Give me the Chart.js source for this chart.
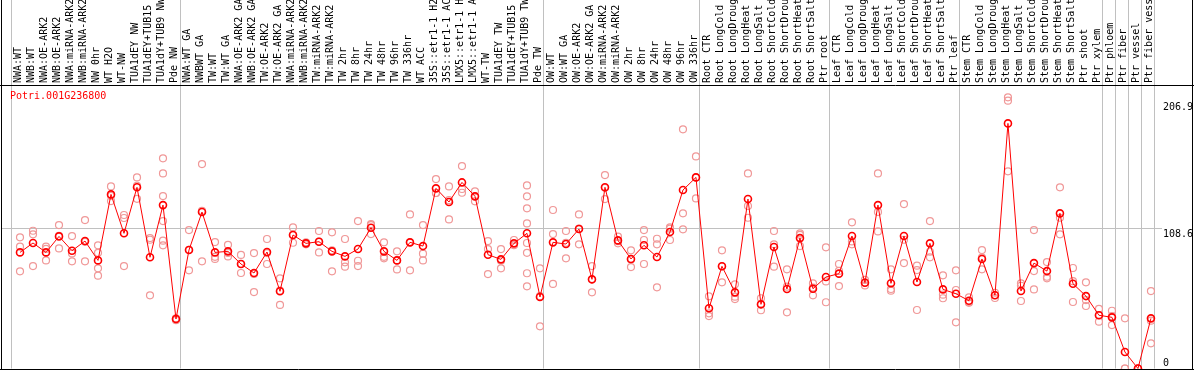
<!DOCTYPE html>
<html>
<head>
<meta charset="utf-8">
<script src="https://cdn.jsdelivr.net/npm/chart.js@4/dist/chart.umd.min.js"></script>
<style>
  html, body { margin: 0; padding: 0; background: #fff; }
</style>
</head>
<body>
<canvas id="chart" width="1194" height="370"></canvas>
<script>
const geneName = 'Potri.001G236800'

const labels = [
  'NWA:WT', 'NWB:WT', 'NWA:OE-ARK2', 'NWB:OE-ARK2', 'NWA:miRNA-ARK2', 'NWB:miRNA-ARK2',
  'NW 0hr', 'WT H2O', 'WT-NW', 'TUA1dEY NW', 'TUA1dEY+TUB15', 'TUA1dY+TUB9 NW', 'Pde NW',
  'NWA:WT GA', 'NWBWT GA', 'TW:WT', 'TW:WT GA', 'NWA:OE-ARK2 GA', 'NWB:OE-ARK2 GA',
  'TW:OE-ARK2', 'TW:OE-ARK2 GA', 'NWA:miRNA-ARK2', 'NWB:miRNA-ARK2', 'TW:miRNA-ARK2',
  'TW:miRNA-ARK2', 'TW 2hr', 'TW 8hr', 'TW 24hr', 'TW 48hr', 'TW 96hr', 'TW 336hr',
  'WT ACC', '35S::etr1-1 H2O', '35S::etr1-1 ACC', 'LMX5::etr1-1 H2O', 'LMX5::etr1-1 ACC',
  'WT-TW', 'TUA1dEY TW', 'TUA1dEY+TUB15', 'TUA1dY+TUB9 TW', 'Pde TW',
  'OW:WT', 'OW:WT GA', 'OW:OE-ARK2', 'OW:OE-ARK2 GA', 'OW:miRNA-ARK2', 'OW:miRNA-ARK2',
  'OW 2hr', 'OW 8hr', 'OW 24hr', 'OW 48hr', 'OW 96hr', 'OW 336hr',
  'Root CTR', 'Root LongCold', 'Root LongDrought', 'Root LongHeat', 'Root LongSalt',
  'Root ShortCold', 'Root ShortDrought', 'Root ShortHeat', 'Root ShortSalt', 'Ptr root',
  'Leaf CTR', 'Leaf LongCold', 'Leaf LongDrought', 'Leaf LongHeat', 'Leaf LongSalt',
  'Leaf ShortCold', 'Leaf ShortDrought', 'Leaf ShortHeat', 'Leaf ShortSalt', 'Ptr leaf',
  'Stem CTR', 'Stem LongCold', 'Stem LongDrought', 'Stem LongHeat', 'Stem LongSalt',
  'Stem ShortCold', 'Stem ShortDrought', 'Stem ShortHeat', 'Stem ShortSalt', 'Ptr shoot',
  'Ptr xylem', 'Ptr phloem', 'Ptr fiber', 'Ptr vessel', 'Ptr fiber vessel'
]

// mean expression per sample (the connected red line)
const means = [
  90.1, 97.4, 90.1, 102.5, 91.4, 98.9, 83.9, 135.1, 104.9, 140.6, 86.3, 126.8, 38.4,
  91.9, 121.4, 90.1, 90.9, 81.1, 74.1, 90.4, 59.9, 103.6, 97.1, 98.4, 90.9, 87.0, 92.7,
  109.2, 90.9, 83.9, 97.9, 95.0, 139.8, 129.2, 144.4, 133.6, 88.3, 84.7, 97.1, 104.9, 55.5,
  97.9, 96.6, 108.2, 69.2, 140.6, 99.4, 85.0, 95.6, 86.5, 105.9, 138.5, 148.3,
  46.7, 79.3, 59.1, 131.5, 49.8, 94.3, 61.7, 101.2, 61.9, 71.0,
  73.6, 102.8, 66.6, 126.8, 66.1, 102.8, 67.1, 97.1, 61.4, 58.0,
  52.6, 85.0, 56.8, 190.2, 60.1, 81.8, 75.6, 120.4, 65.8, 56.2,
  41.3, 39.7, 12.8, 0, 38.9
]

// individual replicates (pale circles)
const replicates = [
  [101.8, 94.5, 75.4], [106.9, 104.1, 79.5], [94.5, 92.8, 83.9], [111.3, 93.2, 103.0],
  [102.8, 89.3, 83.2], [115.2, 83.2, 98.3], [95.6, 89.8, 77.7, 72.0], [141.3, 129.9, 134.0],
  [119.1, 116.8, 79.5], [148.3, 131.7, 141.8], [101.2, 99.9, 56.8],
  [163.1, 151.4, 133.8, 114.4, 99.2, 95.6], [37.5, 39.0, 38.7],
  [107.4, 76.2, 92.1], [158.6, 83.2, 122.4], [98.1, 86.7, 85.0], [96.0, 87.0, 89.7],
  [88.1, 74.1, 81.1], [89.6, 59.3, 73.4], [100.5, 81.1, 89.6], [70.0, 49.3, 60.4],
  [109.5, 97.6, 103.7], [97.9, 96.4, 97.0], [106.7, 90.1, 98.4], [105.7, 75.4, 91.6],
  [100.5, 82.4, 79.0], [114.4, 83.6, 79.5], [112.1, 104.3, 111.2], [97.9, 86.7, 85.5],
  [90.9, 76.9, 83.9], [119.6, 76.2, 97.9], [111.3, 89.1, 83.9], [147.0, 136.2, 136.2],
  [141.3, 115.7, 130.6], [157.1, 139.3, 136.4], [137.5, 129.7, 133.6], [98.9, 73.3, 92.7],
  [92.7, 77.7, 83.7], [99.7, 95.8, 95.8],
  [142.1, 133.6, 124.3, 112.6, 97.4, 89.8, 73.9, 63.8], [77.7, 32.7, 56.1],
  [123.0, 104.3, 65.6], [106.7, 85.5, 97.6], [119.6, 96.4, 108.6], [79.5, 59.1, 69.0],
  [150.1, 131.5, 140.2], [102.3, 97.1, 98.8], [91.7, 78.7, 84.6], [107.4, 99.7, 81.1],
  [100.7, 96.4, 63.0], [109.5, 99.7, 108.5], [185.6, 120.4, 108.0], [164.6, 132.0, 148.3],
  [56.0, 42.8, 40.7], [91.7, 66.9, 79.3], [65.3, 55.7, 53.9], [151.4, 126.1, 117.0],
  [54.5, 45.2, 49.7], [106.7, 96.4, 79.0], [77.0, 63.5, 43.6], [104.9, 95.0, 103.7],
  [66.1, 56.8, 62.8], [94.0, 67.6, 51.4],
  [81.1, 64.0, 75.7], [113.4, 96.4, 98.6], [68.7, 64.5, 66.6], [151.4, 121.5, 106.4],
  [77.0, 61.7, 60.4], [127.6, 99.9, 81.8], [79.8, 76.4, 45.4], [114.4, 90.6, 86.3],
  [72.3, 57.3, 54.5], [76.2, 60.9, 35.8],
  [55.2, 51.0, 51.6], [91.9, 77.0, 86.1], [58.8, 54.7, 56.9], [210.4, 207.8, 153.0],
  [66.1, 64.2, 52.4], [107.4, 75.6, 61.4], [82.6, 71.2, 70.0], [140.6, 117.0, 104.1],
  [78.0, 51.6, 67.8], [66.9, 53.1, 48.5],
  [46.2, 36.3, 41.4], [44.8, 33.7, 40.6], [38.9, 0, 0], [0, 0, 0], [60.1, 19.5, 37.1]
]

// index of the first sample of each group, plus the end
const groupStarts = [0, 13, 41, 53, 63, 73, 84, 85, 86, 87, 88]

const yTicks = [0, 108.6, 206.9]
const yGridValue = 108.6

const monoFont = 'DejaVu Sans Mono'

// grey lines between the sample groups, running up through the label band
const groupLines = {
  id: 'groupLines',
  beforeDatasetsDraw(chart) {
    const { ctx, chartArea, scales } = chart
    ctx.save()
    ctx.strokeStyle = '#c0c0c0'
    ctx.lineWidth = 1
    ctx.beginPath()
    groupStarts.forEach(s => {
      const x = Math.round(scales.x.getPixelForValue(s - 0.73)) + 0.5
      ctx.moveTo(x, 0)
      ctx.lineTo(x, chartArea.bottom)
    })
    ctx.stroke()
    ctx.restore()
  }
}

const geneTitle = {
  id: 'geneTitle',
  afterDatasetsDraw(chart) {
    const { ctx, chartArea } = chart
    ctx.save()
    ctx.font = '10px "' + monoFont + '"'
    ctx.fillStyle = '#ff0000'
    ctx.textBaseline = 'top'
    ctx.fillText(geneName, chartArea.left + 8, chartArea.top + 6)
    ctx.restore()
  }
}

// black box round the plot, left and right edges go to the top of the page
const frame = {
  id: 'frame',
  afterDraw(chart) {
    const { ctx, chartArea, width } = chart
    const top = Math.round(chartArea.top) + 0.5
    const bottom = Math.round(chartArea.bottom) + 0.5
    ctx.save()
    ctx.strokeStyle = '#000'
    ctx.lineWidth = 1
    ctx.beginPath()
    ctx.moveTo(0, top); ctx.lineTo(width, top)
    ctx.moveTo(0, bottom); ctx.lineTo(width, bottom)
    ctx.moveTo(1.5, 0); ctx.lineTo(1.5, bottom)
    ctx.moveTo(width - 1.5, 0); ctx.lineTo(width - 1.5, bottom)
    ctx.stroke()
    ctx.restore()
  }
}

new Chart(document.getElementById('chart'), {
  type: 'scatter',
  data: {
    datasets: [
      {
        label: 'mean',
        data: means.map((v, i) => ({ x: i, y: v })),
        showLine: true,
        borderColor: '#ff0000',
        borderWidth: 1,
        pointRadius: 3.5,
        pointBorderWidth: 1.6,
        pointBorderColor: '#ff0000',
        pointBackgroundColor: 'rgba(0,0,0,0)',
        clip: false,
        order: 0
      },
      {
        label: 'replicates',
        data: replicates.flatMap((r, i) => r.map(v => ({ x: i, y: v }))),
        pointRadius: 3.5,
        borderWidth: 1.2,
        borderColor: '#f09898',
        backgroundColor: 'rgba(0,0,0,0)',
        clip: false,
        order: 1
      }
    ]
  },
  options: {
    responsive: false,
    animation: false,
    layout: { autoPadding: false, padding: { left: 2, right: 0, top: 0, bottom: 1.5 } },
    plugins: { legend: { display: false }, tooltip: { enabled: false } },
    scales: {
      x: {
        type: 'linear',
        position: 'top',
        min: -1.385,
        max: 87.85,
        afterBuildTicks: s => { s.ticks = labels.map((_, i) => ({ value: i })) },
        afterFit: s => {
          s.height = 85
          s.paddingLeft = 0
          s.paddingRight = 0
        },
        grid: { display: false, drawTicks: false },
        border: { display: false },
        ticks: {
          autoSkip: false,
          minRotation: 90,
          maxRotation: 90,
          padding: 2,
          labelOffset: 10,
          color: '#000',
          font: { family: monoFont, size: 10 },
          callback: v => labels[v]
        }
      },
      y: {
        position: 'right',
        min: 0,
        max: 220,
        afterBuildTicks: s => { s.ticks = yTicks.map(v => ({ value: v })) },
        afterFit: s => {
          s.width = 32
          s.paddingTop = 0
          s.paddingBottom = 0
        },
        grid: {
          drawTicks: false,
          color: c => (c.tick && c.tick.value === yGridValue) ? '#c0c0c0' : 'rgba(0,0,0,0)'
        },
        border: { display: false },
        ticks: {
          padding: 1,
          color: '#000',
          font: { family: monoFont, size: 10, lineHeight: 1.1 },
          callback: v => v === 0 ? [String(v), ''] : ['', String(v)]
        }
      }
    }
  },
  plugins: [groupLines, geneTitle, frame]
})
</script>
</body>
</html>
